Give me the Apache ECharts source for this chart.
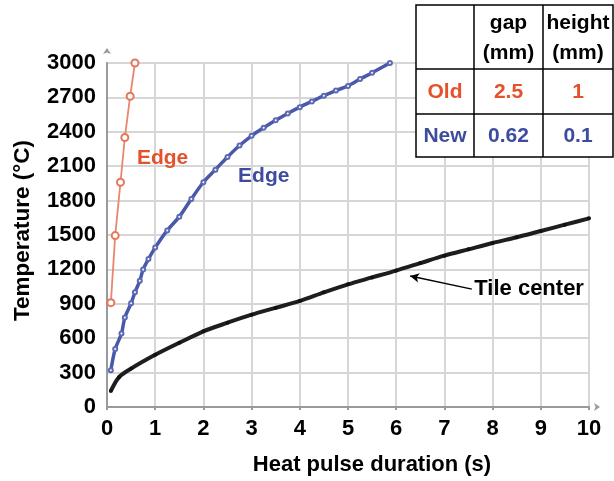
<!DOCTYPE html>
<html>
<head>
<meta charset="utf-8">
<script src="https://cdn.jsdelivr.net/npm/echarts@6/dist/echarts.min.js"></script>
<style>
html,body{margin:0;padding:0;background:#fff;}
#chart{width:614px;height:481px;}
</style>
</head>
<body>
<div id="chart"></div>
<script>
// ---- data ----
const oldEdgeX = [0.08, 0.17, 0.28, 0.37, 0.48, 0.58];
const oldEdgeY = [910, 1495, 1960, 2350, 2710, 3000];

const newEdgeX = [0.08, 0.17, 0.30, 0.37, 0.50, 0.58, 0.68, 0.75, 0.86, 1.00, 1.25, 1.50, 1.75, 2.00, 2.25, 2.50, 2.75, 3.00, 3.25, 3.50, 3.75, 4.00, 4.25, 4.50, 4.75, 5.00, 5.25, 5.50, 5.87];
const newEdgeY = [320, 505, 640, 780, 905, 1000, 1100, 1200, 1290, 1390, 1540, 1660, 1815, 1960, 2070, 2180, 2280, 2365, 2435, 2500, 2560, 2615, 2665, 2715, 2760, 2800, 2860, 2915, 3000];

const tileX = [0.08, 0.25, 0.50, 1.00, 1.50, 2.00, 2.50, 3.00, 3.50, 4.00, 4.50, 5.00, 5.50, 6.00, 6.50, 7.00, 7.50, 8.00, 8.50, 9.00, 9.50, 10.00];
const tileY = [140, 260, 335, 455, 560, 660, 735, 805, 865, 925, 1000, 1070, 1130, 1190, 1255, 1320, 1375, 1430, 1480, 1535, 1590, 1645];

const yTicks = [0, 300, 600, 900, 1200, 1500, 1800, 2100, 2400, 2700, 3000];
const xTicks = [0, 1, 2, 3, 4, 5, 6, 7, 8, 9, 10];

const xName = 'Heat pulse duration (s)';
const yName = 'Temperature (°C)';

const labelTexts = ['Edge', 'Edge', 'Tile center'];
const labelAnchors = [[0.62, 2170], [2.72, 2010], [7.62, 1028]];
const tileArrow = [[7.57, 1028], [6.29, 1143]];

const tableHeader = ['', 'gap\n(mm)', 'height\n(mm)'];
const tableRows = [['Old', '2.5', '1'], ['New', '0.62', '0.1']];

// ---- styles ----
const FONT = '"Liberation Sans", Arial, sans-serif';
const ORANGE = '#E4512A';
const BLUE = '#3E4C9E';
const labelColors = [ORANGE, BLUE, '#000'];
const rowColors = [ORANGE, BLUE];

const zip = (xs, ys) => xs.map((x, i) => [x, ys[i]]);

const chart = echarts.init(document.getElementById('chart'));

// table graphic
const colX = [416, 474, 543, 613];
const rowY = [5, 69, 114, 157];
const tableEls = [];
tableEls.push({
  type: 'rect', z: 200,
  shape: { x: colX[0], y: rowY[0], width: colX[3] - colX[0], height: rowY[3] - rowY[0] },
  style: { fill: '#fff', stroke: '#000', lineWidth: 1.5 }
});
for (let c = 1; c < 3; c++) {
  tableEls.push({ type: 'line', z: 201, shape: { x1: colX[c], y1: rowY[0], x2: colX[c], y2: rowY[3] },
    style: { stroke: '#000', lineWidth: 1.5 } });
}
for (let r = 1; r < 3; r++) {
  tableEls.push({ type: 'line', z: 201, shape: { x1: colX[0], y1: rowY[r], x2: colX[3], y2: rowY[r] },
    style: { stroke: '#000', lineWidth: 1.5 } });
}
for (let r = 0; r < 3; r++) {
  for (let c = 0; c < 3; c++) {
    const txt = r === 0 ? tableHeader[c] : tableRows[r - 1][c];
    if (!txt) continue;
    tableEls.push({
      type: 'text', z: 202,
      x: (colX[c] + colX[c + 1]) / 2,
      y: (rowY[r] + rowY[r + 1]) / 2 + 1,
      style: {
        text: txt, fill: r === 0 ? '#000' : rowColors[r - 1],
        font: 'bold 21px ' + FONT, align: 'center', verticalAlign: 'middle',
        lineHeight: 30
      }
    });
  }
}

const option = {
  backgroundColor: '#fff',
  animation: false,
  grid: { left: 107, right: 25, top: 63, bottom: 72.5 },
  xAxis: {
    type: 'value', min: 0, max: 10, interval: 1,
    name: xName, nameLocation: 'middle', nameGap: 47,
    nameTextStyle: { fontFamily: FONT, fontWeight: 'bold', fontSize: 22, color: '#000', padding: [0, 0, 0, 48] },
    axisLine: { show: true, lineStyle: { color: '#9a9a9a', width: 2 }, symbol: ['none', 'arrow'], symbolSize: [6, 6], symbolOffset: [0, 11] },
    axisTick: { show: true, length: 3, lineStyle: { color: '#9a9a9a', width: 2 } },
    axisLabel: { fontFamily: FONT, fontWeight: 'bold', fontSize: 22, color: '#000', margin: 11,
      formatter: v => xTicks.includes(v) ? String(v) : '' },
    splitLine: { show: true, lineStyle: { color: '#d6d6d6', width: 2 } }
  },
  yAxis: {
    type: 'value', min: 0, max: 3000, interval: 300,
    name: yName, nameLocation: 'middle', nameGap: 73,
    nameTextStyle: { fontFamily: FONT, fontWeight: 'bold', fontSize: 22.5, color: '#000', padding: [0, 0, 0, 9] },
    axisLine: { show: true, lineStyle: { color: '#9a9a9a', width: 2 }, symbol: ['none', 'arrow'], symbolSize: [6, 6], symbolOffset: [0, 15] },
    axisTick: { show: false },
    axisLabel: { fontFamily: FONT, fontWeight: 'bold', fontSize: 22, color: '#000', margin: 11,
      formatter: v => yTicks.includes(v) ? String(v) : '' },
    splitLine: { show: true, lineStyle: { color: '#d6d6d6', width: 2 } }
  },
  series: [
    {
      name: 'Tile center', type: 'line', data: zip(tileX, tileY), smooth: 0.3,
      lineStyle: { color: '#1e1e1e', width: 4 },
      symbol: 'circle', symbolSize: 4, itemStyle: { color: '#111' },
      markLine: {
        silent: true, symbol: ['none', 'arrow'], symbolSize: [7, 9],
        label: { show: false },
        lineStyle: { color: '#000', width: 1.5, type: 'solid' },
        data: [[{ coord: tileArrow[0] }, { coord: tileArrow[1] }]]
      }
    },
    {
      name: 'New edge', type: 'line', data: zip(newEdgeX, newEdgeY), smooth: 0.3,
      lineStyle: { color: '#4958A8', width: 3.5 },
      symbol: 'emptyCircle', symbolSize: 4, itemStyle: { color: '#5D6AB3', borderWidth: 1.2 }
    },
    {
      name: 'Old edge', type: 'line', data: zip(oldEdgeX, oldEdgeY),
      lineStyle: { color: '#E8876C', width: 1.8 },
      symbol: 'emptyCircle', symbolSize: 7, showAllSymbol: true,
      itemStyle: { color: '#E5785A', borderWidth: 1.5 }
    },
    {
      name: 'labels', type: 'scatter', silent: true, symbolSize: 0,
      itemStyle: { opacity: 1 },
      data: labelAnchors.map((p, i) => ({
        value: p,
        label: { show: true, position: 'right', distance: 0, formatter: labelTexts[i], opacity: 1,
          fontFamily: FONT, fontWeight: 'bold', fontSize: i === 2 ? 22 : 21, color: labelColors[i] }
      })),
      z: 10
    }
  ],
  graphic: tableEls
};
chart.setOption(option);
</script>
</body>
</html>
